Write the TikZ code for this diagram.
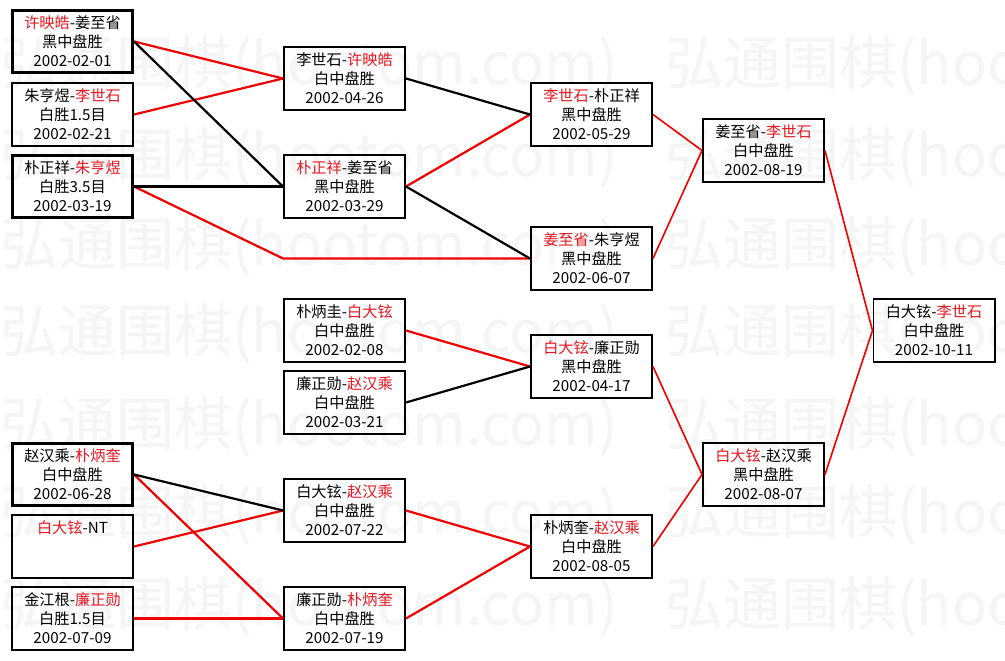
\documentclass[tikz,border=0pt]{standalone}
\usepackage{fontspec}
\setmainfont{Noto Sans CJK SC}
\definecolor{winred}{RGB}{232,22,32}
\definecolor{linered}{RGB}{240,0,0}
\definecolor{wmgray}{RGB}{245,245,245}
\newcommand{\rn}[1]{\textcolor{winred}{#1}}
\newcommand{\toppad}{\rule{0pt}{19pt}}
\tikzset{
  game/.style={draw, line width=1.6pt, minimum width=121.4pt, minimum height=63.4pt,
    inner sep=0pt, align=center, font=\fontsize{15.2}{19}\selectfont,
    execute at begin node={\toppad}},
  seed/.style={game, line width=3pt, minimum width=120pt, minimum height=62pt},
  winA/.style={line width=2.2pt, linered},
  loseA/.style={line width=2.2pt, black},
  winB/.style={line width=1.6pt, linered},
  wmark/.style={anchor=west, inner sep=0pt, text=wmgray, font=\fontsize{58}{60}\selectfont}
}
\begin{document}
\begin{tikzpicture}[x=1pt, y=-1pt]
\fill[white] (0,0) rectangle (1005,661);
\useasboundingbox (0,0) rectangle (1005,661);
% watermark
\foreach \yy/\nm in {66/w1, 158/w2, 247/w3, 334/w4, 427/w5, 515/w6, 607/w7}{
  \node[wmark] (\nm a) at (0,\yy) {弘通围棋(hootom.com)};
  \node[wmark] (\nm b) at (665,\yy) {弘通围棋(hootom.com)};
}
% column A
\node[seed] (A1) at (72.5,41.5) {\rn{许映皓}-姜至省\\黑中盘胜\\2002-02-01};
\node[game] (A2) at (72.5,114.5) {朱亨煜-\rn{李世石}\\白胜1.5目\\2002-02-21};
\node[seed] (A3) at (72.5,186.5) {朴正祥-\rn{朱亨煜}\\白胜3.5目\\2002-03-19};
\node[seed] (A4) at (72.5,474.5) {赵汉乘-\rn{朴炳奎}\\白中盘胜\\2002-06-28};
\node[game] (A5) at (72.5,546.5) {\rn{白大铉}-NT\\~\\~};
\node[game] (A6) at (72.5,618.5) {金江根-\rn{廉正勋}\\白胜1.5目\\2002-07-09};
% column B
\node[game] (B1) at (344.5,78.5) {李世石-\rn{许映皓}\\白中盘胜\\2002-04-26};
\node[game] (B2) at (344.5,186.5) {\rn{朴正祥}-姜至省\\黑中盘胜\\2002-03-29};
\node[game] (B3) at (344.5,330.5) {朴炳圭-\rn{白大铉}\\白中盘胜\\2002-02-08};
\node[game] (B4) at (344.5,402.5) {廉正勋-\rn{赵汉乘}\\白中盘胜\\2002-03-21};
\node[game] (B5) at (344.5,510.5) {白大铉-\rn{赵汉乘}\\白中盘胜\\2002-07-22};
\node[game] (B6) at (344.5,618.5) {廉正勋-\rn{朴炳奎}\\白中盘胜\\2002-07-19};
% column C
\node[game] (C1) at (591.5,114.5) {\rn{李世石}-朴正祥\\黑中盘胜\\2002-05-29};
\node[game] (C2) at (591.5,258.5) {\rn{姜至省}-朱亨煜\\黑中盘胜\\2002-06-07};
\node[game] (C3) at (591.5,366.5) {\rn{白大铉}-廉正勋\\黑中盘胜\\2002-04-17};
\node[game] (C4) at (591.5,546.5) {朴炳奎-\rn{赵汉乘}\\白中盘胜\\2002-08-05};
% column D
\node[game] (D1) at (763.5,150.5) {姜至省-\rn{李世石}\\白中盘胜\\2002-08-19};
\node[game] (D2) at (763.5,474.5) {\rn{白大铉}-赵汉乘\\黑中盘胜\\2002-08-07};
% final
\node[game] (E) at (934,330.5) {白大铉-\rn{李世石}\\白中盘胜\\2002-10-11};
% red connectors
\draw[winA] (A1.east) -- (B1.west);
\draw[winA] (A2.east) -- (B1.west);
\draw[winA] (A3.east) -- (B2.west |- C2.west) -- (C2.west);
\draw[winA] (B2.east) -- (C1.west);
\draw[winA] (B3.east) -- (C3.west);
\draw[winA] (A4.east) -- (B6.west);
\draw[winA] (A5.east) -- (B5.west);
\draw[winA] (A6.east) -- (B6.west);
\draw[winA] (B5.east) -- (C4.west);
\draw[winA] (B6.east) -- (C4.west);
\draw[winB] (C1.east) -- (D1.west);
\draw[winB] (C2.east) -- (D1.west);
\draw[winB] (C3.east) -- (D2.west);
\draw[winB] (C4.east) -- (D2.west);
\draw[winB] (D1.east) -- (E.west);
\draw[winB] (D2.east) -- (E.west);
% black connectors
\draw[loseA] (A1.east) -- (B2.west);
\draw[loseA] (A3.east) -- (B2.west);
\draw[loseA] (B1.east) -- (C1.west);
\draw[loseA] (B2.east) -- (C2.west);
\draw[loseA] (B4.east) -- (C3.west);
\draw[loseA] (A4.east) -- (B5.west);
\end{tikzpicture}
\end{document}
